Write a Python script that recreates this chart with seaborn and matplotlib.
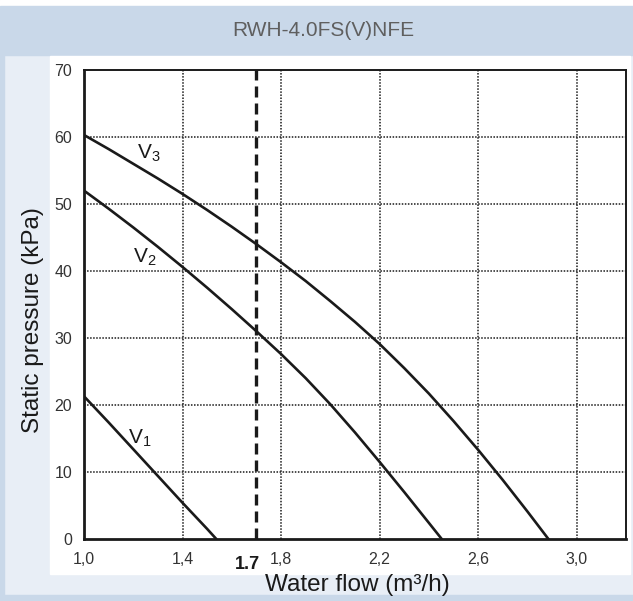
import matplotlib
matplotlib.use('Agg')
import matplotlib.pyplot as plt
import matplotlib.patches as mpatches
import numpy as np
import pandas as pd
import seaborn as sns

# curve data (flow in m3/h, pressure in kPa)
v3_flow = [1.0, 1.1, 1.2, 1.3, 1.4, 1.5, 1.6, 1.7, 1.8, 1.9, 2.0,
           2.1, 2.2, 2.3, 2.4, 2.5, 2.6, 2.7, 2.8, 2.885]
v3_press = [60.3, 58.2, 56.0, 53.8, 51.5, 49.1, 46.6, 44.0, 41.3, 38.5, 35.5,
            32.4, 29.1, 25.5, 21.7, 17.6, 13.3, 8.8, 4.1, 0.0]
v2_flow = [1.0, 1.1, 1.2, 1.3, 1.4, 1.5, 1.6, 1.7, 1.8, 1.9, 2.0,
           2.1, 2.2, 2.3, 2.4, 2.452]
v2_press = [52.0, 49.3, 46.5, 43.6, 40.6, 37.5, 34.3, 31.0, 27.6, 24.0, 20.1,
            15.9, 11.5, 7.0, 2.4, 0.0]
v1_flow = [1.0, 1.1, 1.2, 1.3, 1.4, 1.5, 1.537]
v1_press = [21.3, 17.4, 13.4, 9.4, 5.4, 1.5, 0.0]

x_ticks = [1.0, 1.4, 1.8, 2.2, 2.6, 3.0]
x_tick_labels = ['1,0', '1,4', '1,8', '2,2', '2,6', '3,0']
y_ticks = [0, 10, 20, 30, 40, 50, 60, 70]
design_flow = 1.7

title = 'RWH-4.0FS(V)NFE'

df = pd.concat([
    pd.DataFrame({'flow': v1_flow, 'pressure': v1_press, 'speed': 'V1'}),
    pd.DataFrame({'flow': v2_flow, 'pressure': v2_press, 'speed': 'V2'}),
    pd.DataFrame({'flow': v3_flow, 'pressure': v3_press, 'speed': 'V3'}),
])

sns.set_style('white')
plt.rcParams['font.family'] = ['Liberation Sans', 'DejaVu Sans']
plt.rcParams['mathtext.fontset'] = 'custom'
plt.rcParams['mathtext.rm'] = 'Liberation Sans'
plt.rcParams['mathtext.it'] = 'Liberation Sans'

W, H = 633, 601
fig = plt.figure(figsize=(W / 100, H / 100), dpi=100)
fig.patch.set_facecolor('#e8eef6')


def box(x0, y0, x1, y1, color):
    # pixel rect (top-left origin) -> figure coords
    fig.patches.append(mpatches.Rectangle((x0 / W, 1 - y1 / H), (x1 - x0) / W, (y1 - y0) / H,
                                          transform=fig.transFigure, color=color, zorder=-1))


box(0, 0, W, 6, 'white')
box(0, 6, W, 55, '#c9d8e9')
box(0, 55, 4, H, '#c9d8e9')
box(0, 595, W, H, '#c9d8e9')
box(50, 56, 630, 574, 'white')

fig.text(0.51, 1 - 30 / H, title, ha='center', va='center', fontsize=15, color='#5f5f5f')

ax = fig.add_axes([84 / W, 1 - 539 / H, (626 - 84) / W, (539 - 70) / H])
ax.set_facecolor('white')

sns.lineplot(data=df, x='flow', y='pressure', units='speed', estimator=None,
             color='#1a1a1a', linewidth=1.9, ax=ax, legend=False)

ax.axvline(design_flow, color='#1a1a1a', linewidth=2.4, dashes=(3.3, 1.8), zorder=4)

ax.set_xlim(1.0, 3.2)
ax.set_ylim(0, 70)
ax.set_xticks(x_ticks)
ax.set_xticklabels(x_tick_labels)
ax.set_xticks(np.arange(1.2, 3.2, 0.4), minor=True)
ax.set_yticks(y_ticks)
ax.set_yticks(np.arange(5, 70, 10), minor=True)
ax.tick_params(axis='both', which='major', direction='out', length=5, width=1.2,
               labelsize=11.5, colors='#1a1a1a', labelcolor='#333333')
ax.tick_params(axis='both', which='minor', direction='out', length=4, width=1.2, colors='#1a1a1a')
ax.tick_params(axis='x', pad=4)

for xv in x_ticks[1:]:
    ax.axvline(xv, color='#1a1a1a', linewidth=1.1, linestyle=(0, (1, 1)), zorder=1)
for yv in y_ticks[1:-1]:
    ax.axhline(yv, color='#1a1a1a', linewidth=1.1, linestyle=(0, (1, 1)), zorder=1)

for side in ['left', 'bottom']:
    ax.spines[side].set_linewidth(2.0)
    ax.spines[side].set_color('#1a1a1a')
for side in ['top', 'right']:
    ax.spines[side].set_linewidth(1.4)
    ax.spines[side].set_color('#1a1a1a')

ax.text(1.215, 56.0, 'V$_3$', fontsize=15, color='#1a1a1a', ha='left', va='bottom')
ax.text(1.2, 40.4, 'V$_2$', fontsize=15, color='#1a1a1a', ha='left', va='bottom')
ax.text(1.18, 13.4, 'V$_1$', fontsize=15, color='#1a1a1a', ha='left', va='bottom')

# design point label sits a bit left of the dashed line, below the axis
ax.text(design_flow - 0.035, -2.5, '1.7', fontsize=13, fontweight='bold', color='#1a1a1a',
        ha='center', va='top')

ax.set_xlabel('')
ax.set_ylabel('')
fig.text(357 / W, 1 - 585 / H, 'Water flow (m³/h)', ha='center', va='center',
         fontsize=17.5, color='#1a1a1a')
fig.text(33 / W, 1 - 320 / H, 'Static pressure (kPa)', ha='center', va='center',
         rotation=90, fontsize=17.5, color='#1a1a1a')

fig.savefig('out.png', dpi=100, facecolor=fig.get_facecolor())
